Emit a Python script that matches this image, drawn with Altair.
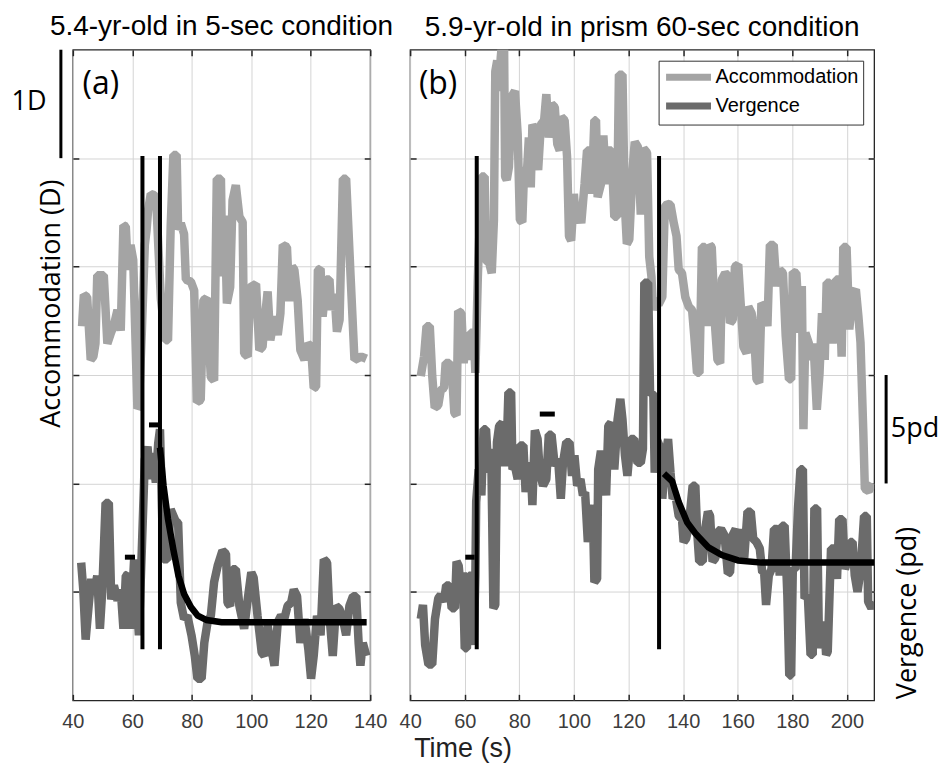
import altair as alt
import pandas as pd

# ---------------- panel (a): 5.4-yr-old, 5-sec condition ----------------
A_ACC_T = [43.1, 43.7, 44.8, 46.0, 46.9, 47.6, 48.2, 50.4, 51.6, 52.7, 53.8, 55.0, 56.1, 57.0, 57.8,
           58.5, 59.4, 60.3, 61.1, 61.7, 62.2, 63.2, 64.2, 64.8, 65.3, 66.2, 67.3, 68.0, 68.7, 69.6,
           71.2, 72.0, 72.9, 73.8, 74.9, 75.4, 76.3, 77.4, 78.0, 79.7, 80.8, 81.7, 83.0, 83.9, 85.0,
           86.4, 87.5, 88.4, 89.8, 90.3, 91.1, 91.8, 92.9, 93.7, 94.8, 96.0, 97.1, 97.6, 98.8, 99.7,
           101.6, 102.7, 103.8, 104.4, 105.5, 106.4, 107.8, 108.9, 109.8, 110.6, 112.0, 112.8, 113.7,
           114.5, 115.6, 116.5, 117.9, 119.0, 120.1, 121.0, 121.8, 122.4, 123.3, 124.0, 125.2, 126.3,
           126.9, 128.0, 128.8, 129.7, 130.8, 131.9, 133.4, 134.7, 137.0, 138.7]
A_ACC_D = [3.45, 3.74, 3.72, 3.14, 3.17, 3.29, 3.92, 3.92, 3.29, 3.38, 3.46, 3.60, 3.41, 4.38, 4.37,
           3.97, 4.20, 4.06, 3.29, 2.69, 2.71, 3.40, 4.20, 4.34, 4.52, 4.67, 4.66, 4.63, 4.21, 3.70,
           3.32, 3.32, 4.37, 5.03, 5.03, 4.34, 4.40, 4.30, 3.88, 3.86, 3.78, 2.75, 2.77, 3.69, 3.71,
           2.98, 2.95, 4.81, 4.81, 3.91, 4.47, 3.66, 3.81, 4.61, 4.75, 4.46, 4.41, 3.20, 3.17, 3.81,
           3.84, 3.23, 3.26, 3.48, 3.77, 3.32, 3.54, 3.37, 3.57, 4.20, 4.18, 3.68, 4.00,
           3.97, 3.69, 3.23, 3.14, 3.29, 3.26, 2.88, 2.89, 3.97, 3.98, 3.54, 3.88, 3.88,
           3.60, 3.75, 3.40, 3.51, 4.81, 4.81, 3.91, 3.14, 3.17, 3.15]

A_VER_T = [42.8, 43.5, 44.3, 45.4, 46.2, 47.1, 48.2, 49.1, 49.9, 51.0, 52.1, 52.9, 53.8, 55.0, 56.1,
           57.0, 57.8, 58.5, 59.4, 60.6, 61.5, 62.2, 63.2, 64.2, 65.1, 66.0, 66.7, 67.9, 68.7, 69.3,
           70.4, 71.8, 72.9, 74.6, 75.4, 76.3, 77.4, 78.5, 79.9, 81.0, 81.9, 83.3, 84.2, 85.3, 86.4,
           87.5, 88.7, 90.3, 91.5, 92.0, 92.9, 93.7, 94.8, 96.0, 96.7, 97.6, 98.8, 100.0, 100.8,
           102.1, 103.5, 104.4, 105.5, 106.6, 107.8, 108.9, 110.0, 111.1, 112.2, 113.4, 114.3, 115.4,
           116.5, 117.9, 119.2, 120.1, 121.0, 122.1, 123.3, 124.4, 125.5, 126.3, 127.4, 128.5, 129.7,
           130.8, 131.9, 133.0, 134.2, 135.3, 136.1, 136.7, 137.5, 138.7]
A_VER_PD = [6.35, 5.1, 2.8, 4.5, 5.6, 4.9, 5.75, 3.3, 5.1, 9.1, 9.1, 4.65, 5.3, 4.6, 5.1,
            3.3, 5.75, 5.8, 3.3, 6.5, 4.65, 3.0, 7.0, 11.1, 11.7, 10.2, 11.4, 10.05, 11.85, 12.5,
            6.5, 6.5, 8.8, 8.25, 8.2, 4.5, 3.75, 3.9, 3.0, 2.05, 1.0, 1.0, 2.65, 3.6, 3.9,
            5.45, 6.2, 6.9, 6.75, 4.5, 4.35, 6.05, 6.05, 4.35, 3.9, 3.3, 4.65, 5.9, 5.65,
            3.9, 2.2, 2.05, 3.45, 2.5, 1.6, 3.6, 3.9, 3.75, 4.35, 4.5, 5.1, 4.8,
            2.65, 3.75, 2.35, 1.0, 2.05, 3.9, 3.0, 6.5, 6.35, 3.9, 2.05, 4.35, 4.2,
            3.75, 3.0, 4.35, 4.8, 4.8, 2.65, 1.6, 2.65, 2.05]

A_FIT_T = [69.3, 70.5, 72.0, 73.8, 75.5, 77.4, 79.7, 82.0, 85.0, 90.0, 100.0, 120.0, 138.8]
A_FIT_PD = [11.65, 9.9, 8.35, 6.95, 5.75, 4.9, 4.3, 3.9, 3.7, 3.6, 3.6, 3.6, 3.6]

A_STEP_T = [63.4, 69.3]
A_MEAN_T0 = [57.5, 65.6]
A_MEAN_T1 = [60.9, 69.3]
A_MEAN_PD = [6.6, 12.7]

# ---------------- panel (b): 5.9-yr-old, prism 60-sec condition ----------------
B_ACC_T = [43.9, 45.1, 46.0, 47.2, 48.1, 49.0, 50.3, 51.2, 52.4, 53.0, 54.4, 55.4, 56.2, 57.0, 57.6,
           58.8, 59.6, 60.6, 61.5, 62.1, 63.3, 63.9, 64.8, 66.1, 67.3, 67.8, 69.0, 69.9, 70.7, 71.2,
           71.9, 72.6, 73.2, 73.8, 74.4, 74.8, 75.4, 76.2, 77.2, 78.4, 79.4, 80.2, 81.1, 81.8, 82.7,
           83.5, 84.2, 84.8, 85.9, 86.9, 87.9, 89.1, 89.9, 90.8, 91.8, 93.0, 93.9, 94.8, 95.4, 96.6,
           97.5, 98.2, 99.0, 100.0, 100.8, 101.7, 102.7, 103.9, 104.8, 105.8, 106.5, 107.5, 108.1,
           108.7, 109.9, 110.8, 111.8, 112.6, 113.8, 114.8, 115.8, 116.5, 117.8, 118.6, 119.4, 120.3,
           121.5, 122.3, 123.5, 124.5, 125.5, 126.8, 127.6, 128.4, 129.0, 130.0, 131.0, 132.4, 133.3,
           134.2, 135.4, 136.6, 137.6, 138.4, 139.6, 140.8, 142.1, 143.3, 144.1, 145.1, 146.0, 146.9,
           148.1, 149.0, 149.7, 150.5, 151.8, 152.6, 153.6, 154.2, 155.4, 156.2, 157.2, 158.2, 159.0,
           160.2, 161.1, 162.1, 163.3, 163.9, 165.1, 165.9, 166.9, 167.9, 168.7, 169.9, 170.9, 171.8,
           173.2, 174.2, 175.4, 176.6, 177.6, 178.8, 179.6, 180.2, 181.5, 182.7, 183.5, 184.1, 184.8,
           186.1, 186.9, 187.8, 189.0, 190.0, 190.9, 191.9, 192.6, 193.8, 194.8, 196.0, 197.2, 198.1,
           198.7, 199.9, 200.9, 202.1, 203.3, 204.2, 205.0, 206.0, 206.6, 208.0, 209.5]
B_ACC_D = [2.99, 3.17, 3.45, 3.45, 2.99, 2.70, 2.72, 2.86, 2.88, 3.11, 3.11, 2.99, 2.65, 2.63, 3.59,
           3.57, 3.11, 3.33, 3.14, 3.39, 3.39, 3.02, 3.90, 4.83, 4.83, 4.06, 4.03, 3.94, 4.43, 5.80,
           5.90, 5.62, 5.93, 6.10, 6.10, 4.83, 4.80, 4.92, 5.57, 5.62, 5.22, 4.43, 4.41, 4.92, 4.83,
           5.19, 4.73, 5.31, 5.25, 4.89, 5.31, 5.35, 5.59, 5.19, 5.50, 5.47, 5.13, 5.07, 5.38, 5.35,
           5.01, 4.28, 4.24, 4.67, 4.40, 4.52, 4.40, 4.76, 5.07, 5.07, 4.67, 5.35, 5.35,
           4.64, 4.76, 5.21, 4.76, 5.07, 5.07, 4.46, 4.46, 5.77, 5.77, 4.60, 4.21, 4.25,
           4.90, 5.15, 5.10, 4.48, 5.09, 5.05, 4.09, 3.91, 3.60, 3.70, 3.65, 3.72, 4.55,
           4.58, 4.57, 4.40, 4.28, 3.97, 3.94, 3.72, 3.63, 3.60, 3.36, 3.02, 3.02, 4.18,
           4.18, 3.45, 4.20, 4.18, 3.42, 3.14, 3.11, 3.88, 3.94, 3.92, 3.48, 3.51, 4.00,
           4.02, 3.66, 3.26, 3.20, 3.63, 3.57, 3.45, 2.96, 2.93, 3.66, 3.63, 3.45, 4.20,
           4.20, 3.82, 3.97, 3.94, 3.36, 2.96, 2.96, 3.95, 3.94, 3.39, 3.82, 2.50, 3.39,
           3.29, 3.14, 3.29, 2.68, 3.02, 3.57, 3.14, 3.85, 3.85, 3.29, 3.88, 3.88, 3.17,
           4.18, 4.18, 3.42, 3.75, 3.79, 3.55, 3.30, 2.50, 1.95, 1.93, 2.00]

B_VER_T = [43.9, 44.7, 45.5, 46.7, 48.1, 49.1, 50.3, 51.2, 52.4, 53.2, 54.4, 55.2, 56.4, 57.0, 57.8,
           58.8, 59.3, 60.0, 60.8, 61.5, 62.4, 63.3, 63.9, 64.2, 65.1, 66.1, 66.9, 67.8, 68.7, 69.7,
           70.5, 71.2, 71.8, 72.6, 73.8, 74.5, 75.4, 76.0, 77.0, 77.5, 78.4, 79.4, 80.2, 81.5, 82.3,
           83.3, 84.2, 84.8, 85.7, 86.7, 87.5, 88.7, 89.9, 90.8, 91.8, 93.0, 94.2, 95.2, 96.0, 97.2,
           98.4, 99.3, 100.2, 101.2, 102.4, 103.3, 104.1, 105.1, 106.1, 106.9, 107.5, 108.5, 108.9,
           109.9, 110.9, 111.8, 112.6, 113.6, 114.8, 116.0, 117.0, 117.8, 118.7, 119.6, 120.8, 122.1,
           123.3, 124.5, 125.3, 125.8, 127.2, 127.9, 129.1, 129.6, 130.5, 131.8, 132.4, 133.3, 134.5,
           135.4, 136.2, 137.2, 138.4, 139.6, 140.2, 141.1, 142.1, 143.5, 144.5, 145.1, 145.9, 147.2,
           148.1, 149.1, 149.9, 150.8, 151.8, 152.7, 153.9, 155.2, 156.4, 157.2, 158.1, 159.3, 160.2,
           161.5, 162.4, 163.6, 164.8, 165.7, 166.9, 168.1, 169.0, 169.7, 170.4, 171.4, 172.4, 173.3,
           174.5, 175.4, 176.2, 177.2, 178.2, 178.9, 179.6, 180.2, 181.2, 182.1, 183.0, 183.9, 184.5,
           185.7, 186.7, 187.5, 188.1, 189.1, 189.8, 190.8, 191.8, 192.4, 193.0, 194.2, 195.4, 196.4,
           197.2, 198.4, 199.3, 200.2, 201.2, 202.1, 202.9, 203.9, 205.1, 206.3, 207.3, 207.8, 209.0,
           210.0]
B_VER_PD = [3.75, 4.4, 2.55, 1.65, 1.65, 3.75, 4.7, 4.85, 4.55, 5.3, 5.3, 4.25, 4.25, 6.4, 6.2,
            4.7, 5.9, 2.4, 2.4, 5.75, 5.75, 2.55, 5.75, 9.15, 10.65, 9.45, 12.5, 12.5, 10.5, 11.6,
            4.25, 4.4, 11.9, 12.65, 12.8, 10.8, 11.75, 14.2, 14.2, 10.65, 10.8, 10.2, 11.75, 11.75, 9.6,
            10.95, 10.65, 9.0, 12.45, 12.05, 10.5, 9.9, 10.2, 12.25, 12.25, 10.8, 11.15, 9.3, 10.95, 11.9,
            11.9, 10.35, 11.3, 9.9, 10.2, 9.45, 9.6, 7.3, 8.5, 9.0, 5.45, 5.6, 10.65,
            11.5, 10.95, 9.45, 12.65, 12.8, 10.65, 12.95, 13.9, 12.95, 11.3, 10.35, 12.05, 12.05,
            10.95, 10.95, 11.6, 19.25, 19.25, 14.15, 14.15, 10.5, 12.0, 11.6, 9.3, 10.95, 12.05,
            10.5, 9.3, 9.45, 8.5, 8.35, 7.3, 7.45, 8.05, 9.9, 9.9, 7.9, 6.4, 6.4,
            7.9, 8.7, 8.5, 6.4, 6.55, 7.75, 7.9, 7.6, 5.85, 5.9, 7.6, 7.9, 6.55,
            7.9, 6.55, 8.7, 8.7, 7.45, 7.3, 7.0, 5.9, 5.9, 4.4, 5.75, 6.05, 7.9,
            7.9, 5.75, 8.05, 8.05, 4.85, 1.15, 1.15, 6.05, 6.05, 8.85, 10.65, 10.65, 4.7,
            4.85, 2.1, 2.1, 8.85, 8.85, 2.4, 3.45, 3.45, 2.1, 2.25, 7.0, 7.0, 5.6,
            8.35, 8.35, 6.05, 6.4, 7.3, 7.3, 5.75, 5.0, 6.05, 8.5, 8.5, 4.55, 4.25,
            4.55]

B_FIT_T = [133.0, 136.0, 138.4, 141.5, 144.5, 149.3, 154.2, 160.2, 168.7, 180.8, 195.0, 210.0]
B_FIT_PD = [10.45, 10.1, 9.15, 8.2, 7.7, 7.05, 6.7, 6.45, 6.35, 6.35, 6.35, 6.35]

B_STEP_T = [64.4, 131.2]
B_MEAN_T0 = [60.2, 87.5]
B_MEAN_T1 = [63.6, 93.0]
B_MEAN_PD = [6.6, 13.2]

# step-marker extent (in D) and scale bars
STEP_LO_D, STEP_HI_D = 0.47, 5.02
BAR_D = [5, 6]      # 1D bar
BAR_PD = [10, 15]   # 5pd bar

ACC_DOMAIN = [0, 6]
VER_DOMAIN = [0, 30]
ACC_TICKS = [1, 2, 3, 4, 5]
VER_TICKS = [5, 10, 15, 20, 25]
A_XTICKS = [40, 60, 80, 100, 120, 140]
B_XTICKS = [40, 60, 80, 100, 120, 140, 160, 180, 200]
SERIES = ["Accommodation", "Vergence"]

LIGHT = "#a4a4a4"
DARK = "#6b6b6b"
FRAME = "#262626"
GRID = "#d4d4d4"
SANS = "Liberation Sans"
HUM = "Open Sans"
H = 652
LW = 8.5


def panel(acc_t, acc_d, ver_t, ver_pd, fit_t, fit_pd, step_t, m0, m1, mpd,
          xmax, xticks, width, right, title, tag):
    xs = alt.Scale(domain=[40, xmax], nice=False, zero=False)
    acc_s = alt.Scale(domain=ACC_DOMAIN, nice=False, zero=False)
    ver_s = alt.Scale(domain=VER_DOMAIN, nice=False, zero=False)
    tick = dict(domain=False, ticks=True, tickSize=6, offset=-6, tickColor=FRAME, tickWidth=1.5)

    acc_df = pd.DataFrame({"t": acc_t, "v": acc_d, "series": SERIES[0]})
    ver_df = pd.DataFrame({"t": ver_t, "v": ver_pd, "series": SERIES[1]})
    fit_df = pd.DataFrame({"t": fit_t, "v": fit_pd})
    step_df = pd.DataFrame({"t": step_t, "lo": [STEP_LO_D] * len(step_t), "hi": [STEP_HI_D] * len(step_t)})
    mean_df = pd.DataFrame({"t0": m0, "t1": m1, "v": mpd})

    if right:
        xb_title = dict(title="Time (s)", titleFont=SANS, titleFontSize=27, titleFontWeight="normal",
                        titleColor="#222222", titleX=52.5, titleY=62, titleAlign="center",
                        titleBaseline="alphabetic", titleAngle=0)
        yl_title = dict(title=None)
        yr_title = dict(title="Vergence (pd)", titleFont=HUM, titleFontSize=27, titleFontWeight="normal",
                        titleColor="black", titleX=47, titleY=564, titleAngle=270, titleAlign="center",
                        titleBaseline="alphabetic")
        color = alt.Color("series:N", scale=alt.Scale(domain=SERIES, range=[LIGHT, DARK]),
                          legend=alt.Legend(title=None, orient="top-right", offset=11,
                                            symbolType="M-1,0L4,0", symbolSize=324,
                                            symbolStrokeWidth=7, symbolFillColor="transparent",
                                            labelFont=SANS, labelFontSize=20, labelColor="black",
                                            labelOffset=28, labelLimit=400, strokeColor="#333333",
                                            fillColor="white", padding=4, rowPadding=0))
        acc_color, ver_color = color, color
    else:
        xb_title = dict(title=None)
        yl_title = dict(title="Accommodation (D)", titleFont=HUM, titleFontSize=27, titleFontWeight="normal",
                        titleColor="black", titleX=-19, titleY=254, titleAngle=270, titleAlign="center",
                        titleBaseline="alphabetic")
        yr_title = dict(title=None)
        acc_color, ver_color = alt.value(LIGHT), alt.value(DARK)

    x_bottom = alt.X("t:Q", scale=xs, axis=alt.Axis(
        orient="bottom", values=xticks, grid=True, gridColor=GRID, gridWidth=1,
        labels=True, labelFont=SANS, labelFontSize=20, labelColor="#3c3c3c", labelPadding=11,
        labelFlush=False, labelOverlap=False, format="d", **tick, **xb_title))
    x_top = alt.X("t:Q", scale=xs, axis=alt.Axis(
        orient="top", values=xticks, grid=False, labels=False, title=None, **tick))
    y_left = alt.Y("v:Q", scale=acc_s, axis=alt.Axis(
        orient="left", values=ACC_TICKS, grid=True, gridColor=GRID, gridWidth=1,
        labels=False, **tick, **yl_title))
    y_right = alt.Y("v:Q", scale=ver_s, axis=alt.Axis(
        orient="right", values=VER_TICKS, grid=False, labels=False, **tick, **yr_title))

    acc = alt.Chart(acc_df).mark_line(strokeWidth=LW, strokeJoin="bevel", clip=True).encode(
        x=x_bottom, y=y_left, color=acc_color)
    ver = alt.Chart(ver_df).mark_line(strokeWidth=LW, strokeJoin="bevel", clip=True).encode(
        x=x_top, y=y_right, color=ver_color)

    steps = alt.Chart(step_df).mark_rule(color="black", strokeWidth=4).encode(
        x=alt.X("t:Q", scale=xs, axis=None),
        y=alt.Y("lo:Q", scale=acc_s, axis=None), y2="hi:Q")
    means = alt.Chart(mean_df).mark_rule(color="black", strokeWidth=5).encode(
        x=alt.X("t0:Q", scale=xs, axis=None), x2="t1:Q",
        y=alt.Y("v:Q", scale=ver_s, axis=None))
    fit = alt.Chart(fit_df).mark_line(color="black", strokeWidth=6.5, clip=True).encode(
        x=alt.X("t:Q", scale=xs, axis=None),
        y=alt.Y("v:Q", scale=ver_s, axis=None))

    tag_txt = alt.Chart(pd.DataFrame({"k": [0]})).mark_text(
        text=tag, font=HUM, fontSize=32, align="center", baseline="middle", color="black").encode(
        x=alt.value(28), y=alt.value(34))

    layers = [acc, ver, steps, means, fit, tag_txt]

    if right:
        bar_df = pd.DataFrame({"lo": [BAR_PD[0]], "hi": [BAR_PD[1]]})
        bar = alt.Chart(bar_df).mark_rule(color="black", strokeWidth=3).encode(
            x=alt.value(width + 12), y=alt.Y("lo:Q", scale=ver_s, axis=None), y2="hi:Q")
        bar_txt = alt.Chart(pd.DataFrame({"k": [0]})).mark_text(
            text="5pd", font=HUM, fontSize=27, align="center", baseline="middle", color="black").encode(
            x=alt.value(width + 41), y=alt.value(380))
        layers += [bar, bar_txt]
    else:
        bar_df = pd.DataFrame({"lo": [BAR_D[0]], "hi": [BAR_D[1]]})
        bar = alt.Chart(bar_df).mark_rule(color="black", strokeWidth=3).encode(
            x=alt.value(-12), y=alt.Y("lo:Q", scale=acc_s, axis=None), y2="hi:Q")
        bar_txt = alt.Chart(pd.DataFrame({"k": [0]})).mark_text(
            text="1D", font=HUM, fontSize=27, align="center", baseline="middle", color="black").encode(
            x=alt.value(-44), y=alt.value(52))
        layers += [bar, bar_txt]

    return alt.layer(*layers).resolve_scale(y="independent").resolve_axis(
        x="independent", y="independent").properties(
        width=width, height=H,
        title=alt.TitleParams(title, font=SANS, fontSize=28, fontWeight="normal", color="black",
                              anchor="middle", offset=7))


left = panel(A_ACC_T, A_ACC_D, A_VER_T, A_VER_PD, A_FIT_T, A_FIT_PD, A_STEP_T,
             A_MEAN_T0, A_MEAN_T1, A_MEAN_PD, 140, A_XTICKS, 298, False,
             "5.4-yr-old in 5-sec condition", "(a)")
right = panel(B_ACC_T, B_ACC_D, B_VER_T, B_VER_PD, B_FIT_T, B_FIT_PD, B_STEP_T,
              B_MEAN_T0, B_MEAN_T1, B_MEAN_PD, 210, B_XTICKS, 465, True,
              "5.9-yr-old in prism 60-sec condition", "(b)")

chart = alt.hconcat(left, right, spacing=40, bounds="flush").resolve_scale(
    color="independent").properties(
    padding={"left": 2, "top": 3, "right": 0, "bottom": 0}, background="white"
).configure_view(stroke=FRAME, strokeWidth=1.3)

chart.save("out.html", embed_options={"renderer": "svg", "actions": False})
